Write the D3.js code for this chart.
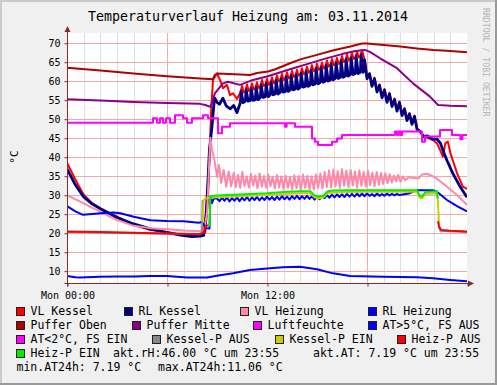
<!DOCTYPE html>
<html>
<head>
<meta charset="utf-8">
<script src="https://cdn.jsdelivr.net/npm/d3@7/dist/d3.min.js"></script>
<style>
  body { margin: 0; background: #fff; }
  svg text { font-family: 'DejaVu Sans Mono', monospace; }
</style>
</head>
<body>
<div id="graf"></div>
<script>
// I. Daten: [Stunde seit 00:00, °C]
vlKessel = [[0,38.4],[0.5,34.0],[1,30.0],[1.5,27.8],[2,26.4],[3,24.2],[4,22.0],[5,20.7],[6,20.2],[7,19.3],[7.5,19.1],[8,19.4],[8.2,19.6],[8.3,20.3],[8.45,28],[8.55,40],[8.65,52],[8.76,60.2],[9.0,61.9],[9.18,60.2],[9.36,58.0],[9.6,58.9],[9.78,56.2],[9.96,56.7],[10.2,55.2],
  [10.4,56.9],[10.5,58.6],[10.6,56.9],[10.7,57.3],[10.8,59.0],[10.9,57.3],[11.0,57.7],[11.1,59.3],[11.2,57.7],[11.3,58.0],[11.4,59.6],[11.5,58.0],[11.6,58.6],[11.7,60.2],[11.8,58.6],[11.9,58.9],[12.0,60.5],[12.1,58.9],[12.2,59.3],[12.3,60.9],[12.4,59.3],[12.5,59.8],[12.6,61.4],[12.7,59.8],[12.8,60.2],[12.9,61.8],[13.0,60.2],[13.1,60.6],[13.2,62.2],[13.3,60.6],[13.4,61.0],[13.5,62.6],[13.6,61.0],[13.7,61.3],[13.8,62.9],[13.9,61.3],[14.0,61.7],[14.1,63.3],[14.2,61.7],[14.3,62.1],[14.4,63.7],[14.5,62.1],[14.6,62.5],[14.7,64.1],[14.8,62.5],[14.9,62.9],[15.0,64.5],[15.1,62.9],[15.2,63.2],[15.3,64.8],[15.4,63.2],[15.5,63.7],[15.6,65.3],[15.7,63.7],[15.8,64.1],[15.9,65.7],[16.0,64.1],[16.1,64.4],[16.2,66.0],[16.3,64.4],[16.4,64.9],[16.5,66.5],[16.6,64.9],[16.7,65.3],[16.8,66.9],[16.9,65.3],[17.0,65.7],[17.1,67.3],[17.2,65.7],[17.3,66.1],[17.4,67.7],[17.5,66.1],[17.6,66.5],[17.7,68.1],[17.8,66.5],
  [17.9,64.5],[18.0,61.0],[18.15,62.0],[18.3,59.0],[18.45,60.8],[18.6,57.5],[18.75,59.0],[18.9,56.0],[19.05,57.8],[19.2,54.8],[19.35,56.8],[19.5,53.6],[19.65,55.3],[19.8,52.5],[19.95,54.5],[20.1,51.2],[20.25,52.8],[20.4,50.0],[20.55,51.5],[20.7,49.0],[20.85,50.8],[21.0,47.6],[21.2,46.5],[21.4,45.3],[21.6,45.0],[21.96,44.4],[22.2,43.5],[22.38,41.8],[22.55,40.0],[22.7,43.5],[22.85,44.0],[23.0,41.0],[23.4,35.7],[23.75,32.1],[24,31.5]]

rlKessel = [[0,36.8],[0.5,32.6],[1,29.4],[1.5,27.6],[2,26.3],[3,24.0],[4,22.3],[5,21.0],[6,20.0],[7,19.2],[7.5,19.0],[8,19.1],[8.2,19.3],[8.35,25],[8.45,33],[8.55,42],[8.7,48],[8.85,55.5],[9.0,54.3],[9.15,53.8],[9.35,55.4],[9.55,53.4],[9.8,52.6],[10.0,53.5],[10.2,51.6],
  [10.4,54.2],[10.45,57.2],[10.57,54.2],[10.7,54.6],[10.75,57.6],[10.87,54.6],[11.0,54.8],[11.05,58.0],[11.17,54.8],[11.3,55.0],[11.35,58.3],[11.47,55.0],[11.6,55.6],[11.65,58.9],[11.77,55.6],[11.9,55.8],[11.95,59.2],[12.07,55.8],[12.2,56.3],[12.25,59.6],[12.37,56.3],[12.5,56.5],[12.55,60.1],[12.67,56.5],[12.8,57.0],[12.85,60.5],[12.97,57.0],[13.1,57.2],[13.15,60.9],[13.27,57.2],[13.4,57.6],[13.45,61.3],[13.57,57.6],[13.7,57.8],[13.75,61.6],[13.87,57.8],[14.0,58.3],[14.05,62.0],[14.17,58.3],[14.3,58.5],[14.35,62.4],[14.47,58.5],[14.6,58.9],[14.65,62.8],[14.77,58.9],[14.9,59.2],[14.95,63.2],[15.07,59.2],[15.2,59.6],[15.25,63.5],[15.37,59.6],[15.5,59.9],[15.55,64.0],[15.67,59.9],[15.8,60.2],[15.85,64.4],[15.97,60.2],[16.1,60.6],[16.15,64.7],[16.27,60.6],[16.4,60.9],[16.45,65.2],[16.57,60.9],[16.7,61.2],[16.75,65.6],[16.87,61.2],[17.0,61.6],[17.05,66.0],[17.17,61.6],[17.3,61.9],[17.35,66.4],[17.47,61.9],[17.6,62.2],[17.65,66.8],[17.77,62.2],
  [17.85,65.5],[18.0,60.5],[18.15,61.8],[18.3,58.5],[18.45,60.5],[18.6,57.0],[18.75,58.8],[18.9,55.5],[19.05,57.5],[19.2,54.3],[19.35,56.5],[19.5,53.2],[19.65,55.0],[19.8,52.0],[19.95,54.3],[20.1,50.8],[20.25,52.5],[20.4,49.5],[20.55,51.2],[20.7,48.5],[20.85,50.6],[21.0,47.2],[21.2,46.6],[21.4,45.3],[21.6,45.5],[21.95,44.6],[22.2,44.6],[22.4,43.6],[22.6,41.2],[22.8,39.0],[23.15,35.6],[23.6,32.0],[24,29.3]]

vlHeizung = [[0,29.9],[1,27.7],[2,25.5],[3,23.3],[4,21.8],[5,21.2],[6,20.9],[7,20.6],[8,20.4],[8.2,20.5],[8.4,25],[8.55,40],[8.6,45],[8.7,42],[8.88,38.3],[9.0,34.7],[9.12,37.8],[9.25,33.1],[9.4,36.5],[9.55,32.1],[9.7,36.1],[9.85,32.2],[10.0,35.8],[10.13,32.0],[10.26,35.2],[10.39,31.8],[10.52,36.0],[10.65,32.3],[10.78,34.8],[10.91,31.9],[11.04,35.5],[11.17,32.4],[11.3,35.0],[11.43,31.7],[11.56,35.6],[11.69,32.1],[11.82,34.9],[11.95,31.8],[12.08,35.3],[12.21,32.2],[12.34,34.7],[12.47,31.6],[12.6,35.2],[12.73,31.9],[12.86,34.8],[12.99,31.5],[13.12,35.0],[13.25,31.8],[13.38,34.6],[13.51,31.4],[13.64,35.1],[13.77,31.7],[13.9,34.9],[14.03,31.3],[14.16,35.3],[14.29,31.8],[14.42,35.0],[14.55,31.5],[14.68,34.8],[14.81,31.4],[14.94,35.3],[15.07,31.8],[15.2,35.6],[15.33,31.6],[15.46,36.0],[15.59,32.0],[15.72,36.4],[15.85,31.9],[15.98,36.6],[16.11,32.2],[16.24,36.2],[16.37,31.8],[16.5,36.7],[16.63,32.3],[16.76,36.3],[16.89,32.0],[17.02,36.5],[17.15,32.4],[17.28,36.1],[17.41,31.9],[17.54,36.4],[17.67,32.3],[17.8,36.0],[17.93,32.1],[18.06,36.3],[18.19,32.5],[18.32,35.8],[18.45,32.2],[18.58,36.0],[18.71,32.6],[18.84,35.7],[18.97,32.8],[19.1,35.6],[19.23,33.0],[19.36,35.4],[19.49,33.2],[19.62,35.0],[19.75,33.5],[19.88,35.2],[20.01,33.4],[20.14,34.8],[20.3,33.8],[20.5,34.6],[20.8,34.4],[21.1,34.3],[21.3,35.3],[21.6,35.5],[21.96,34.8],[22.2,34.2],[22.8,32.1],[23.4,29.9],[24,27.3]]

rlHeizung = [[0,27.0],[0.5,25.6],[0.96,24.7],[1.5,24.9],[2,25.1],[2.8,25.3],[3.2,25.1],[4,24.2],[5,23.3],[6,23.1],[7,23.0],[7.9,22.6],[8.1,22.8],[8.2,22.3],[8.3,21.2],[8.55,21.1],[8.6,29.5],[8.7,27.8],[8.8,29.0],[9.0,29.0],[9.15,28.3],[9.3,29.2],[9.45,28.4],[9.6,29.3],[9.75,28.2],[9.9,29.1],[10.05,28.4],[10.2,29.3],[10.35,28.3],[10.5,29.2],[10.65,28.5],[10.8,29.4],[10.95,28.4],[11.1,29.3],[11.25,28.6],[11.4,29.4],[11.55,28.5],[11.7,29.3],[11.85,28.6],[12.0,29.5],[12.15,28.7],[12.3,29.4],[12.45,28.6],[12.6,29.5],[12.75,28.7],[12.9,29.6],[13.05,28.8],[13.2,29.5],[13.35,28.7],[13.5,29.6],[13.65,28.9],[13.8,29.7],[13.95,28.8],[14.1,29.6],[14.25,28.9],[14.4,29.7],[14.55,28.9],[14.7,29.6],[14.85,28.7],[15.0,29.3],[15.15,28.8],[15.3,29.6],[15.45,29.1],[15.6,29.9],[15.75,29.2],[15.9,30.0],[16.05,29.3],[16.2,30.1],[16.35,29.4],[16.5,30.1],[16.65,29.4],[16.8,30.2],[16.95,29.5],[17.1,30.2],[17.25,29.5],[17.4,30.3],[17.55,29.6],[17.7,30.3],[17.85,29.6],[18.0,30.3],[18.15,29.7],[18.3,30.2],[18.45,29.6],[18.6,30.3],[18.75,29.7],[18.9,30.2],[19.05,29.7],[19.2,30.3],[19.35,29.8],[19.5,30.2],[19.65,29.8],[19.8,30.2],[19.95,29.9],[20.5,30.3],[21.0,31.2],[21.4,31.2],[21.96,31.2],[22.2,30.8],[22.8,28.6],[23.4,27.0],[24,25.6]]

pufferOben = [[0,63.4],[2,62.7],[4,61.9],[6,61.2],[8.0,60.6],[8.76,60.4],[8.85,61.4],[9.0,61.9],[10.4,61.6],[10.98,61.5],[11.4,62.0],[12.06,62.4],[12.5,63.0],[13.38,64.6],[14,65.6],[15,66.8],[16,68.0],[17,69.0],[17.7,69.8],[18,69.8],[19,69.4],[20,69.0],[21,68.5],[22,68.1],[23,67.8],[24,67.5]]

pufferMitte = [[0,55.1],[2,54.8],[4,54.4],[6,54.1],[7.98,53.9],[8.3,53.6],[8.6,53.1],[8.88,56.7],[9.36,59.3],[9.66,59.7],[10.38,58.9],[11.16,60.2],[12.0,61.1],[13.38,63.0],[14.5,64.5],[15.5,65.8],[16.5,67.0],[17.3,67.8],[17.88,68.1],[18.2,67.5],[18.78,65.9],[19.8,63.3],[20.76,59.3],[21.78,55.8],[22.26,53.6],[23,53.4],[24,53.3]]

luftfeuchte = [[0,48.9],[5.16,50.1],[5.4,48.9],[5.58,50.1],[5.76,48.9],[5.94,50.1],[6.18,48.9],[6.48,50.9],[6.96,50.1],[7.2,48.9],[7.5,50.1],[8.16,50.9],[8.46,50.1],[9.06,46.2],[9.3,47.9],[9.78,48.8],[13.08,47.9],[13.18,48.8],[13.68,47.9],[14.7,44.8],[14.88,43.9],[15.06,43.1],[15.9,43.9],[16.2,44.8],[16.5,45.7],[19.68,46.6],[19.8,45.7],[19.9,46.6],[20.0,45.7],[20.1,46.6],[21.3,43.9],[21.48,45.3],[22.38,47.0],[23.1,45.7],[23.6,44.6],[23.72,45.7],[24,45.7]]

aussenTemp = [[0,8.6],[0.5,8.3],[0.8,8.2],[1.98,8.4],[3,8.5],[4,8.5],[4.98,8.6],[6,8.6],[7.2,8.2],[8.4,8.2],[9.18,8.8],[9.96,9.3],[10.98,10.2],[12,10.6],[12.96,10.9],[13.98,11.06],[15.0,10.4],[15.96,9.3],[16.98,8.6],[18.96,8.4],[21,8.3],[21.96,8.0],[22.98,7.55],[24,7.19]]

kesselPAus = [[0,20.2],[8.0,19.6],[8.1,20.2],[8.14,28.6],[8.15,null],[22.32,21.6],[22.4,20.5],[24,20.2]]
kesselPEin = [[8.14,23.0],[8.2,28.6],[8.3,29.0],[8.6,29.2],[9,29.3],[10,29.5],[11,29.7],[12,29.9],[13,30.2],[14,30.4],[14.6,30.4],[14.85,29.3],[15.1,29.0],[15.4,29.3],[15.65,30.4],[16,30.6],[17,30.7],[18,30.8],[19,30.8],[20,30.8],[21,30.8],[21.15,29.2],[21.3,29.0],[21.5,30.2],[22.2,30.4],[22.26,28.0],[22.32,21.8]]
heizPAus = [[0,20.3],[2,20.2],[4,20.0],[6,19.8],[8.0,19.6],[8.2,20.0],[8.3,21.6],[8.46,22.0],[8.5,null],[22.26,23],[22.32,21.6],[22.45,20.7],[23,20.5],[24,20.3]]
heizPEin = [[8.46,22.4],[8.56,21.9],[8.6,29.5],[9.0,29.8],[10,30.0],[11,30.2],[12,30.4],[13,30.7],[14,30.9],[14.6,30.9],[14.85,29.8],[15.1,29.5],[15.4,29.8],[15.65,30.9],[16,31.1],[17,31.2],[18,31.2],[19,31.2],[20,31.2],[21,31.2],[21.15,29.8],[21.3,29.5],[21.5,30.7],[22.2,30.9],[22.24,29.0]]

yTicks = [10, 15, 20, 25, 30, 35, 40, 45, 50, 55, 60, 65, 70]
xTicks = [0, 6, 12, 18, 24]
xLabels = { 0: 'Mon 00:00', 12: 'Mon 12:00' }

namen = ['VL Kessel', 'RL Kessel', 'VL Heizung', 'RL Heizung', 'Puffer Oben', 'Puffer Mitte',
         'Luftfeuchte', 'AT>5°C, FS AUS', 'AT<2°C, FS EIN', 'Kessel-P AUS', 'Kessel-P EIN',
         'Heiz-P AUS', 'Heiz-P EIN']
farben = ['#ff0000', '#000080', '#ff88aa', '#0000ff', '#b00000', '#8b008b',
          '#ff00ff', '#0000ff', '#ff00ff', '#888888', '#cccc00', '#ff0000', '#00ee00']

aktRH = '46.00'
aktAT = ' 7.19'
minAT = ' 7.19'
maxAT = '11.06'
zeit = '23:55'

// II. Konfiguration
W = 497
H = 385
margins = { top: 33, left: 67, right: 30, bottom: 102 }
ancho = 400
alto = 250

svg = d3.select('#graf').append('svg')
        .attr('width', W)
        .attr('height', H)

// Hintergrund + Rahmen (rrdtool Stil)
svg.append('rect').attr('width', W).attr('height', H).attr('fill', '#f0f0f0')
svg.append('rect').attr('x', 0).attr('y', 0).attr('width', W).attr('height', 2).attr('fill', '#cbcbcb')
svg.append('rect').attr('x', 0).attr('y', 0).attr('width', 2).attr('height', H).attr('fill', '#cbcbcb')
svg.append('rect').attr('x', 0).attr('y', H - 2).attr('width', W).attr('height', 2).attr('fill', '#999')
svg.append('rect').attr('x', W - 2).attr('y', 0).attr('width', 2).attr('height', H).attr('fill', '#999')

x = d3.scaleLinear().domain([0, 24]).range([margins.left, margins.left + ancho])
y = d3.scaleLinear().domain([6.76, 72.55]).range([margins.top + alto, margins.top])

px = v => Math.round(v) + 0.5

svg.append('rect')
   .attr('x', margins.left).attr('y', margins.top)
   .attr('width', ancho).attr('height', alto)
   .attr('fill', '#fff')

// Gitter
grid = svg.append('g')
grid.selectAll('.minor')
    .data(d3.range(1, 24).filter(h => h % 6 != 0))
    .enter().append('line')
      .attr('x1', d => px(x(d))).attr('x2', d => px(x(d)))
      .attr('y1', margins.top).attr('y2', margins.top + alto)
      .attr('stroke', '#dedede')
grid.selectAll('.majorx')
    .data([6, 12, 18])
    .enter().append('line')
      .attr('x1', d => px(x(d))).attr('x2', d => px(x(d)))
      .attr('y1', margins.top).attr('y2', margins.top + alto)
      .attr('stroke', '#f3a9a9')
grid.selectAll('.majory')
    .data(yTicks)
    .enter().append('line')
      .attr('x1', margins.left).attr('x2', margins.left + ancho)
      .attr('y1', d => px(y(d))).attr('y2', d => px(y(d)))
      .attr('stroke', '#f3a9a9')

// Linien
svg.append('clipPath').attr('id', 'clip')
   .append('rect')
   .attr('x', margins.left).attr('y', margins.top)
   .attr('width', ancho).attr('height', alto)

plot = svg.append('g').attr('clip-path', 'url(#clip)')

linie = d3.line()
          .defined(d => d[1] != null)
          .x(d => x(d[0]))
          .y(d => y(d[1]))
stufe = d3.line()
          .curve(d3.curveStepAfter)
          .x(d => x(d[0]))
          .y(d => y(d[1]))

reihen = [
  [vlKessel, 0, linie],
  [rlKessel, 1, linie],
  [vlHeizung, 2, linie],
  [rlHeizung, 3, linie],
  [pufferOben, 4, linie],
  [pufferMitte, 5, linie],
  [luftfeuchte, 6, stufe],
  [aussenTemp, 7, linie],
  [kesselPAus, 9, linie],
  [kesselPEin, 10, linie],
  [heizPAus, 11, linie],
  [heizPEin, 12, linie]
]

reihen.forEach(r => {
  plot.append('path')
      .datum(r[0])
      .attr('d', r[2])
      .attr('fill', 'none')
      .attr('stroke', farben[r[1]])
      .attr('stroke-width', r[1] == 1 ? 2.8 : 2)
      .attr('stroke-linejoin', 'round')
})

// Achsen
achsenFarbe = '#8b2a2a'

yAxisCall = d3.axisLeft(y).tickValues(yTicks).tickSize(3).tickPadding(4)
yAxisGroup = svg.append('g')
                .attr('transform', `translate(${margins.left + 0.5}, 0.5)`)
                .call(yAxisCall)
yAxisGroup.select('.domain').remove()
yAxisGroup.selectAll('line').attr('stroke', achsenFarbe)
yAxisGroup.selectAll('text').attr('font-size', '10px').attr('fill', '#000')
          .attr('font-family', "'DejaVu Sans Mono', monospace")

xAxisCall = d3.axisBottom(x).tickValues(xTicks).tickSize(3).tickPadding(5)
              .tickFormat(d => xLabels[d] || '')
xAxisGroup = svg.append('g')
                .attr('transform', `translate(0.5, ${margins.top + alto + 0.5})`)
                .call(xAxisCall)
xAxisGroup.select('.domain').remove()
xAxisGroup.selectAll('line').attr('stroke', achsenFarbe)
xAxisGroup.selectAll('text').attr('font-size', '10px').attr('fill', '#000')
          .attr('font-family', "'DejaVu Sans Mono', monospace")

x0 = margins.left + 0.5
y0 = margins.top + alto + 0.5
svg.append('line').attr('x1', x0).attr('x2', x0).attr('y1', y0 + 3).attr('y2', margins.top - 4)
   .attr('stroke', achsenFarbe)
svg.append('line').attr('x1', x0 - 3).attr('x2', margins.left + ancho + 4).attr('y1', y0).attr('y2', y0)
   .attr('stroke', achsenFarbe)
svg.append('path')
   .attr('d', `M${x0 - 3},${margins.top - 1} L${x0},${margins.top - 7} L${x0 + 3},${margins.top - 1} Z`)
   .attr('fill', achsenFarbe)
svg.append('path')
   .attr('d', `M${margins.left + ancho + 1},${y0 - 3} L${margins.left + ancho + 7},${y0} L${margins.left + ancho + 1},${y0 + 3} Z`)
   .attr('fill', achsenFarbe)

// Titel
svg.append('text')
   .attr('x', 248).attr('y', 21)
   .attr('text-anchor', 'middle')
   .attr('font-size', '13.3px')
   .text('Temperaturverlauf Heizung am: 03.11.2014')

svg.append('text')
   .attr('transform', 'translate(18, 157) rotate(-90)')
   .attr('text-anchor', 'middle')
   .attr('font-size', '11px')
   .text('°C')

svg.append('text')
   .attr('transform', 'translate(483, 8) rotate(90)')
   .attr('font-size', '8.2px')
   .attr('fill', '#b4b4b4')
   .text('RRDTOOL / TOBI OETIKER')

// Legende
legPos = [[16, 315], [124, 315], [240, 315], [368, 315],
          [16, 329], [132, 329], [253, 329], [368, 329],
          [16, 343], [152, 343], [275, 343], [397, 343],
          [16, 357]]

leg = svg.append('g').attr('font-size', '11.5px')
namen.forEach((n, i) => {
  p = legPos[i]
  leg.append('rect')
     .attr('x', p[0] + 0.5).attr('y', p[1] - 7.5)
     .attr('width', 8).attr('height', 8)
     .attr('fill', farben[i])
     .attr('stroke', '#222')
  leg.append('text')
     .attr('x', p[0] + 14.5).attr('y', p[1])
     .text(n)
})

leg.append('text').attr('x', 113).attr('y', 357).attr('xml:space', 'preserve')
   .text(`akt.rH:${aktRH} °C um ${zeit}`)
leg.append('text').attr('x', 313).attr('y', 357).attr('xml:space', 'preserve')
   .text(`akt.AT:${aktAT} °C um ${zeit}`)
leg.append('text').attr('x', 16.5).attr('y', 371).attr('xml:space', 'preserve')
   .text(`min.AT24h:${minAT} °C`)
leg.append('text').attr('x', 158).attr('y', 371).attr('xml:space', 'preserve')
   .text(`max.AT24h:${maxAT} °C`)
</script>
</body>
</html>
